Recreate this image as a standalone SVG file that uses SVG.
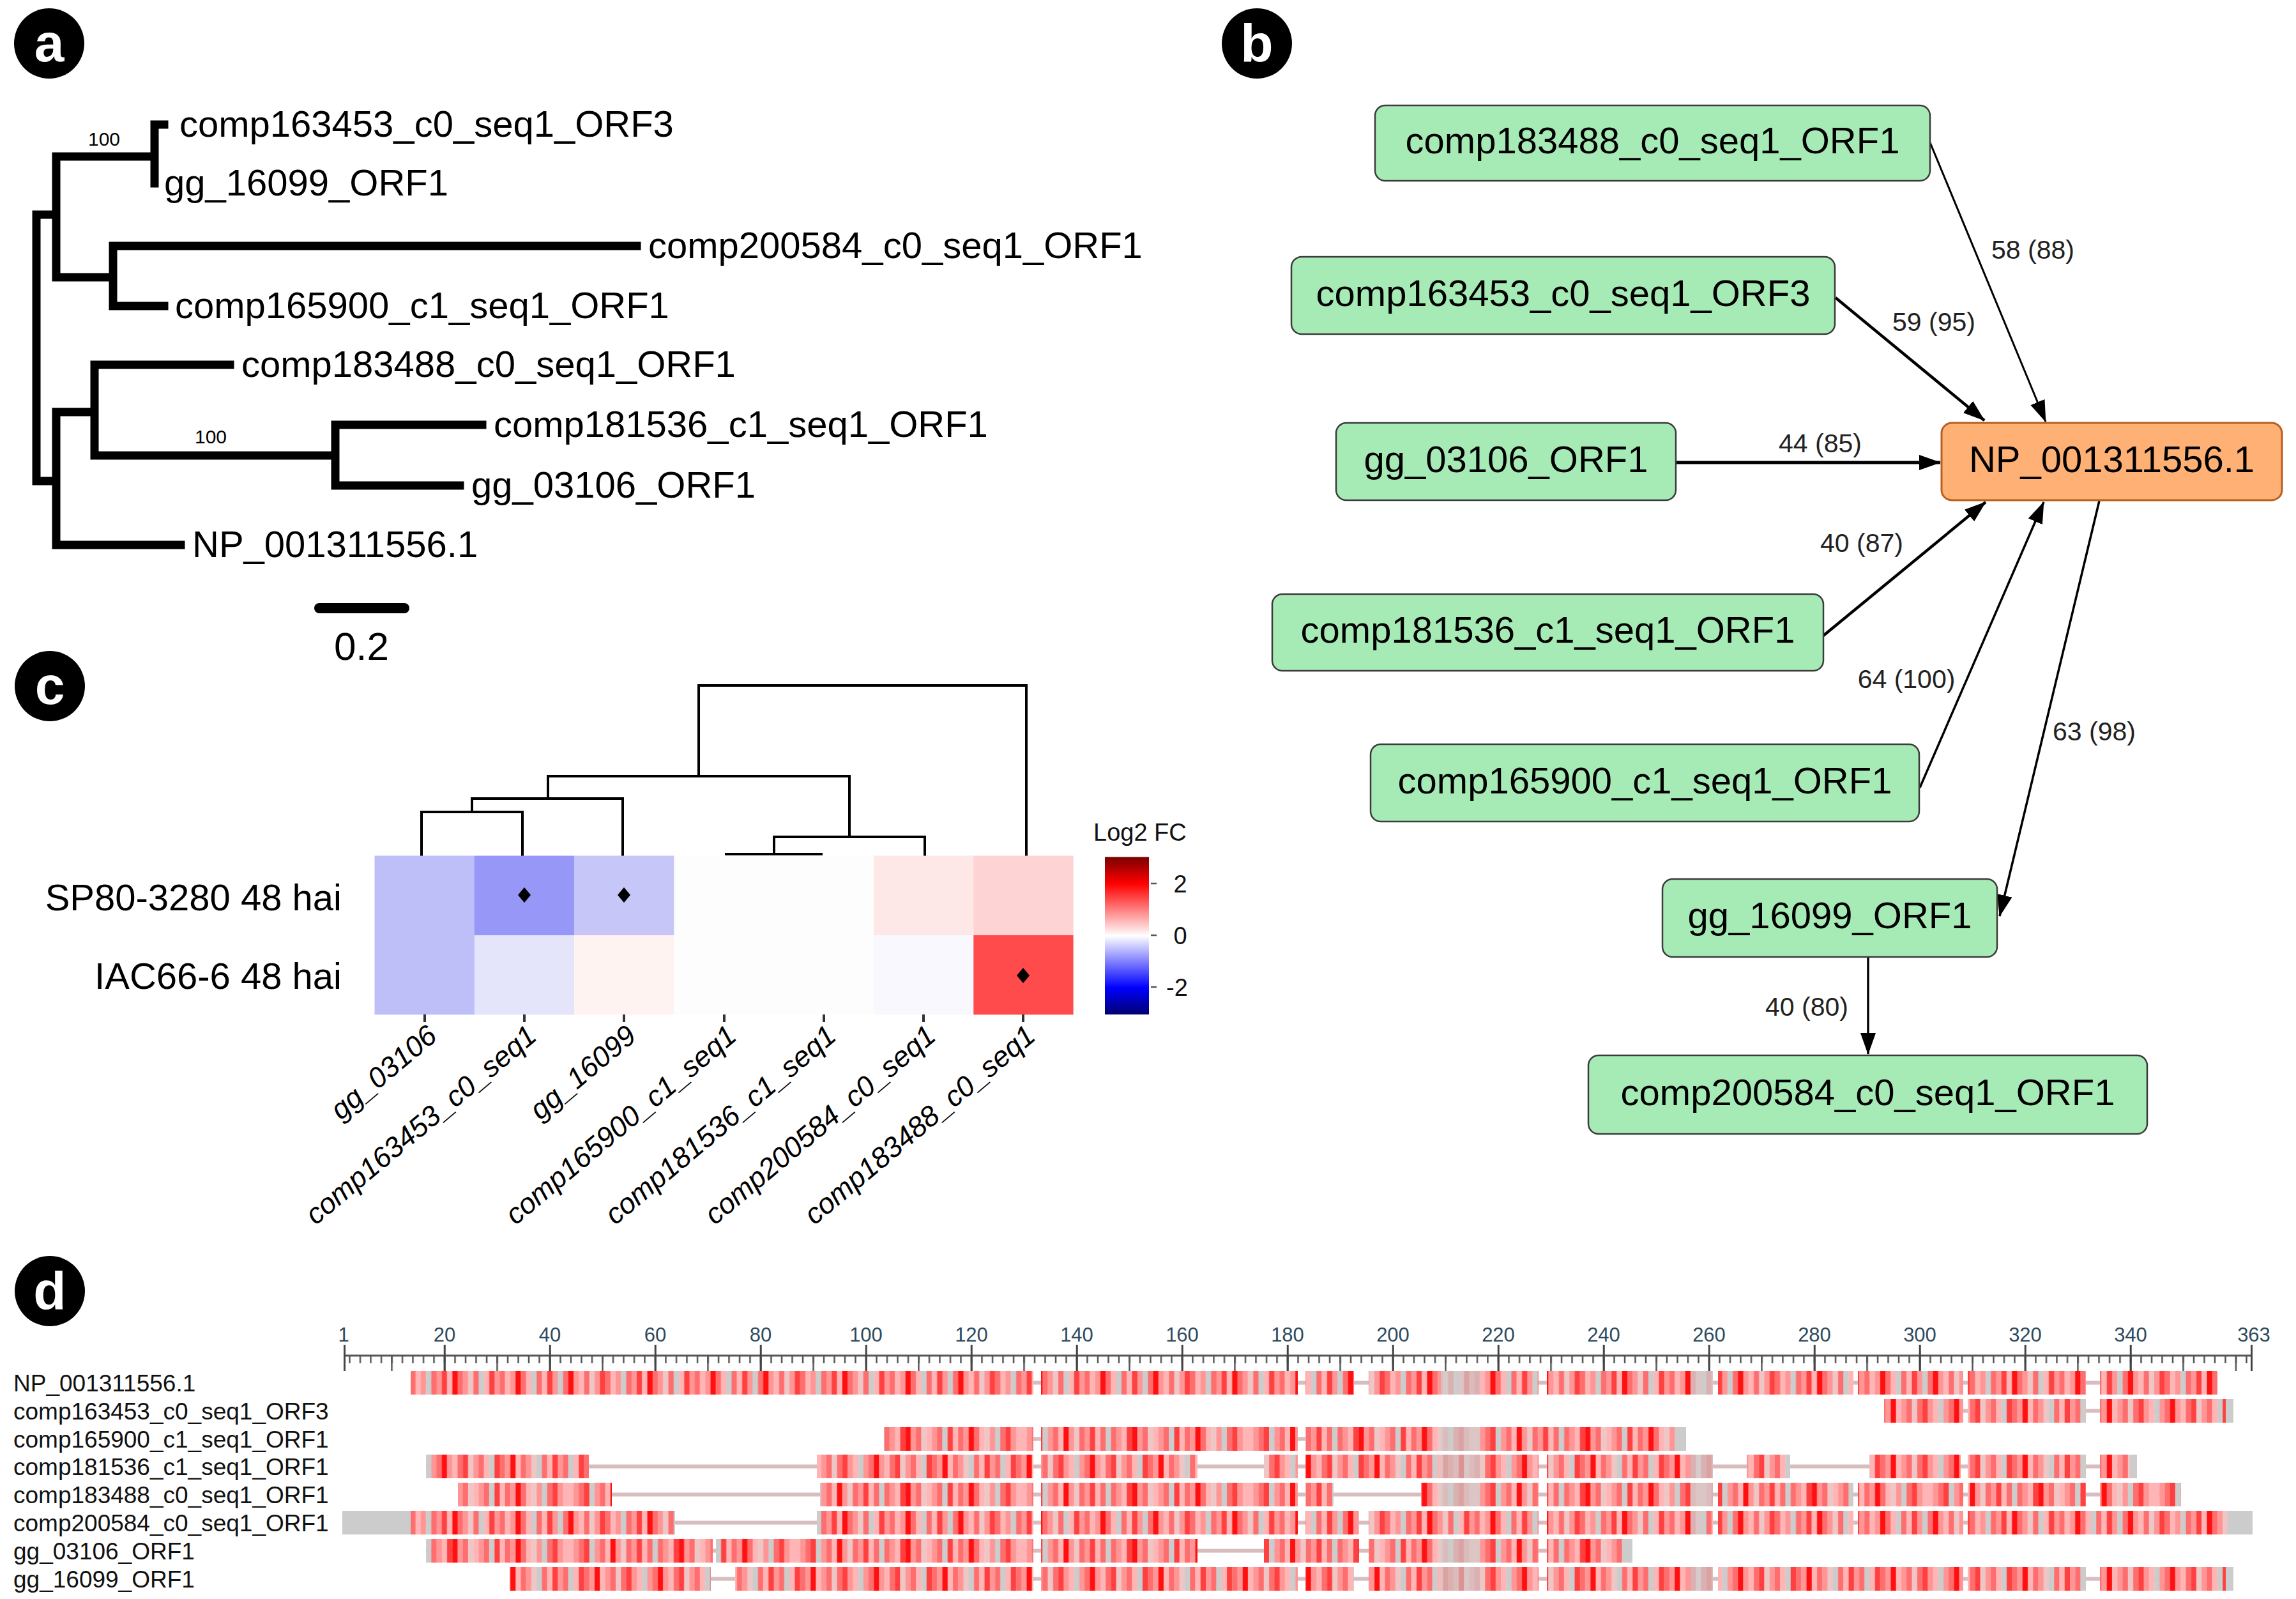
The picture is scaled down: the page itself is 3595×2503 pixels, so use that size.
<svg xmlns="http://www.w3.org/2000/svg" width="3595" height="2503" viewBox="0 0 3595 2503">
<defs>
<style>
text{font-family:"Liberation Sans",Arial,sans-serif;fill:#000}
.badge{fill:#000}
.badgeT{fill:#fff;font-weight:bold;font-size:84px;text-anchor:middle}
.tree{fill:none;stroke:#000;stroke-width:13;stroke-linecap:square}
.tl{font-size:58px}
.boot{font-size:30px}
.gnode{fill:#A6EBB5;stroke:#3b3b3b;stroke-width:2.5}
.onode{fill:#FFB074;stroke:#B85E1E;stroke-width:3}
.nt{font-size:58px;text-anchor:middle}
.edge{fill:none;stroke:#000}
.el{font-size:41px;text-anchor:middle;fill:#222}
.dendro{fill:none;stroke:#000;stroke-width:4}
.rl{font-size:58px;text-anchor:end}
.cl{font-size:45px;font-style:italic;text-anchor:end}
.lg{font-size:38px;fill:#111}
.al{font-size:37px;fill:#111}
.rn{font-size:31px;fill:#2E4A5C;text-anchor:middle}
.a{fill:#FF1010}.b{fill:#FF4040}.c{fill:#FF6E6E}.d{fill:#FF9595}.e{fill:#FFB5B5}.f{fill:#EEC6C6}.g{fill:#CCCCCC}
.sA{fill:url(#pA)}.sB{fill:url(#pB)}.sC{fill:url(#pC)}
.gap{fill:#D8BDBE}
.gr{fill:#CCCCCC}
.go{fill:#CCCCCC;opacity:0.7}
</style>
<marker id="arr" markerUnits="userSpaceOnUse" markerWidth="34" markerHeight="24" viewBox="0 0 34 24" refX="33" refY="12" orient="auto">
<path d="M0,0 L34,12 L0,24 z" fill="#000"/>
</marker>
<linearGradient id="cbar" x1="0" y1="0" x2="0" y2="1">
<stop offset="0" stop-color="#7A0000"/>
<stop offset="0.17" stop-color="#FF0000"/>
<stop offset="0.5" stop-color="#FFFFFF"/>
<stop offset="0.83" stop-color="#0000FF"/>
<stop offset="1" stop-color="#000070"/>
</linearGradient>
<pattern id="tickMinor" patternUnits="userSpaceOnUse" x="546.25" y="0" width="16.5" height="2503">
<rect x="0" y="0" width="2.5" height="2503" fill="#555"/>
</pattern>
<pattern id="tick10" patternUnits="userSpaceOnUse" x="612.25" y="0" width="82.5" height="2503">
<rect x="0" y="0" width="2.5" height="2503" fill="#555"/>
</pattern>
<pattern id="tick20" patternUnits="userSpaceOnUse" x="694.75" y="0" width="165" height="2503">
<rect x="0" y="0" width="3" height="2503" fill="#444"/>
</pattern>
<pattern id="pA" patternUnits="userSpaceOnUse" x="535" y="0" width="305.25" height="2503">
<rect x="0" width="8.5" height="2503" class="c"/><rect x="8.25" width="8.5" height="2503" class="e"/><rect x="16.5" width="8.5" height="2503" class="b"/><rect x="24.75" width="8.5" height="2503" class="d"/><rect x="33" width="8.5" height="2503" class="g"/><rect x="41.25" width="8.5" height="2503" class="c"/><rect x="49.5" width="8.5" height="2503" class="a"/><rect x="57.75" width="8.5" height="2503" class="d"/><rect x="66" width="8.5" height="2503" class="e"/><rect x="74.25" width="8.5" height="2503" class="c"/><rect x="82.5" width="8.5" height="2503" class="f"/><rect x="90.75" width="8.5" height="2503" class="d"/><rect x="99" width="8.5" height="2503" class="b"/><rect x="107.25" width="8.5" height="2503" class="c"/><rect x="115.5" width="8.5" height="2503" class="e"/><rect x="123.75" width="8.5" height="2503" class="d"/><rect x="132" width="8.5" height="2503" class="g"/><rect x="140.25" width="8.5" height="2503" class="c"/><rect x="148.5" width="8.5" height="2503" class="d"/><rect x="156.75" width="8.5" height="2503" class="b"/><rect x="165" width="8.5" height="2503" class="e"/><rect x="173.25" width="8.5" height="2503" class="a"/><rect x="181.5" width="8.5" height="2503" class="c"/><rect x="189.75" width="8.5" height="2503" class="d"/><rect x="198" width="8.5" height="2503" class="f"/><rect x="206.25" width="8.5" height="2503" class="c"/><rect x="214.5" width="8.5" height="2503" class="g"/><rect x="222.75" width="8.5" height="2503" class="e"/><rect x="231" width="8.5" height="2503" class="b"/><rect x="239.25" width="8.5" height="2503" class="d"/><rect x="247.5" width="8.5" height="2503" class="c"/><rect x="255.75" width="8.5" height="2503" class="e"/><rect x="264" width="8.5" height="2503" class="d"/><rect x="272.25" width="8.5" height="2503" class="a"/><rect x="280.5" width="8.5" height="2503" class="c"/><rect x="288.75" width="8.5" height="2503" class="e"/><rect x="297" width="8.5" height="2503" class="g"/>
</pattern>
<pattern id="pB" patternUnits="userSpaceOnUse" x="535" y="0" width="338.25" height="2503">
<rect x="0" width="8.5" height="2503" class="d"/><rect x="8.25" width="8.5" height="2503" class="c"/><rect x="16.5" width="8.5" height="2503" class="g"/><rect x="24.75" width="8.5" height="2503" class="e"/><rect x="33" width="8.5" height="2503" class="b"/><rect x="41.25" width="8.5" height="2503" class="c"/><rect x="49.5" width="8.5" height="2503" class="d"/><rect x="57.75" width="8.5" height="2503" class="a"/><rect x="66" width="8.5" height="2503" class="e"/><rect x="74.25" width="8.5" height="2503" class="d"/><rect x="82.5" width="8.5" height="2503" class="c"/><rect x="90.75" width="8.5" height="2503" class="f"/><rect x="99" width="8.5" height="2503" class="c"/><rect x="107.25" width="8.5" height="2503" class="b"/><rect x="115.5" width="8.5" height="2503" class="d"/><rect x="123.75" width="8.5" height="2503" class="e"/><rect x="132" width="8.5" height="2503" class="g"/><rect x="140.25" width="8.5" height="2503" class="d"/><rect x="148.5" width="8.5" height="2503" class="c"/><rect x="156.75" width="8.5" height="2503" class="a"/><rect x="165" width="8.5" height="2503" class="d"/><rect x="173.25" width="8.5" height="2503" class="e"/><rect x="181.5" width="8.5" height="2503" class="c"/><rect x="189.75" width="8.5" height="2503" class="b"/><rect x="198" width="8.5" height="2503" class="f"/><rect x="206.25" width="8.5" height="2503" class="d"/><rect x="214.5" width="8.5" height="2503" class="c"/><rect x="222.75" width="8.5" height="2503" class="e"/><rect x="231" width="8.5" height="2503" class="g"/><rect x="239.25" width="8.5" height="2503" class="b"/><rect x="247.5" width="8.5" height="2503" class="c"/><rect x="255.75" width="8.5" height="2503" class="d"/><rect x="264" width="8.5" height="2503" class="a"/><rect x="272.25" width="8.5" height="2503" class="e"/><rect x="280.5" width="8.5" height="2503" class="c"/><rect x="288.75" width="8.5" height="2503" class="d"/><rect x="297" width="8.5" height="2503" class="f"/><rect x="305.25" width="8.5" height="2503" class="g"/><rect x="313.5" width="8.5" height="2503" class="c"/><rect x="321.75" width="8.5" height="2503" class="e"/><rect x="330" width="8.5" height="2503" class="b"/>
</pattern>
<pattern id="pC" patternUnits="userSpaceOnUse" x="535" y="0" width="354.75" height="2503">
<rect x="0" width="8.5" height="2503" class="e"/><rect x="8.25" width="8.5" height="2503" class="d"/><rect x="16.5" width="8.5" height="2503" class="c"/><rect x="24.75" width="8.5" height="2503" class="b"/><rect x="33" width="8.5" height="2503" class="g"/><rect x="41.25" width="8.5" height="2503" class="d"/><rect x="49.5" width="8.5" height="2503" class="c"/><rect x="57.75" width="8.5" height="2503" class="e"/><rect x="66" width="8.5" height="2503" class="a"/><rect x="74.25" width="8.5" height="2503" class="d"/><rect x="82.5" width="8.5" height="2503" class="f"/><rect x="90.75" width="8.5" height="2503" class="c"/><rect x="99" width="8.5" height="2503" class="d"/><rect x="107.25" width="8.5" height="2503" class="b"/><rect x="115.5" width="8.5" height="2503" class="e"/><rect x="123.75" width="8.5" height="2503" class="c"/><rect x="132" width="8.5" height="2503" class="g"/><rect x="140.25" width="8.5" height="2503" class="c"/><rect x="148.5" width="8.5" height="2503" class="d"/><rect x="156.75" width="8.5" height="2503" class="e"/><rect x="165" width="8.5" height="2503" class="b"/><rect x="173.25" width="8.5" height="2503" class="a"/><rect x="181.5" width="8.5" height="2503" class="d"/><rect x="189.75" width="8.5" height="2503" class="c"/><rect x="198" width="8.5" height="2503" class="f"/><rect x="206.25" width="8.5" height="2503" class="e"/><rect x="214.5" width="8.5" height="2503" class="d"/><rect x="222.75" width="8.5" height="2503" class="c"/><rect x="231" width="8.5" height="2503" class="g"/><rect x="239.25" width="8.5" height="2503" class="b"/><rect x="247.5" width="8.5" height="2503" class="e"/><rect x="255.75" width="8.5" height="2503" class="c"/><rect x="264" width="8.5" height="2503" class="d"/><rect x="272.25" width="8.5" height="2503" class="a"/><rect x="280.5" width="8.5" height="2503" class="c"/><rect x="288.75" width="8.5" height="2503" class="e"/><rect x="297" width="8.5" height="2503" class="f"/><rect x="305.25" width="8.5" height="2503" class="d"/><rect x="313.5" width="8.5" height="2503" class="g"/><rect x="321.75" width="8.5" height="2503" class="c"/><rect x="330" width="8.5" height="2503" class="b"/><rect x="338.25" width="8.5" height="2503" class="d"/><rect x="346.5" width="8.5" height="2503" class="e"/>
</pattern>
</defs>
<rect x="0" y="0" width="3595" height="2503" fill="#fff"/>

<!-- panel badges -->
<g id="badge-a"><circle class="badge" cx="77" cy="68" r="55"/><text class="badgeT" x="77" y="96">a</text></g>
<g id="badge-b"><circle class="badge" cx="1968" cy="68" r="55"/><text class="badgeT" x="1968" y="97">b</text></g>
<g id="badge-c"><circle class="badge" cx="78" cy="1074" r="55"/><text class="badgeT" x="78" y="1102">c</text></g>
<g id="badge-d"><circle class="badge" cx="78" cy="2021" r="55"/><text class="badgeT" x="78" y="2050">d</text></g>

<!-- panel a: phylogenetic tree -->
<g id="panel-a" transform="translate(0,-4)">
<path class="tree" d="M57,340 V757 M57,340 H88 M57,757 H88
M88,249 V438 M88,249 H242 M242,199 V291 M242,199 H257
M88,438 H177 M177,389 V483 M177,389 H997 M177,483 H257
M88,649 V857 M88,649 H148 M148,575 V717 M148,575 H360
M148,717 H525 M525,669 V764 M525,669 H755 M525,764 H720
M88,857 H283"/>
<text class="boot" x="163" y="232" text-anchor="middle">100</text>
<text class="boot" x="330" y="698" text-anchor="middle">100</text>
<text class="tl" x="281" y="218">comp163453_c0_seq1_ORF3</text>
<text class="tl" x="257" y="310">gg_16099_ORF1</text>
<text class="tl" x="1015" y="408">comp200584_c0_seq1_ORF1</text>
<text class="tl" x="274" y="502">comp165900_c1_seq1_ORF1</text>
<text class="tl" x="378" y="594">comp183488_c0_seq1_ORF1</text>
<text class="tl" x="773" y="688">comp181536_c1_seq1_ORF1</text>
<text class="tl" x="738" y="783">gg_03106_ORF1</text>
<text class="tl" x="301" y="876">NP_001311556.1</text>
<path d="M500,956 H633" stroke="#000" stroke-width="16" stroke-linecap="round"/>
<text x="566" y="1037" font-size="62" text-anchor="middle">0.2</text>
</g>

<!-- panel b: network -->
<g id="connectors">
<path class="edge" stroke-width="3" d="M3022,223 L3203,660" marker-end="url(#arr)"/>
<path class="edge" stroke-width="4.5" d="M2874,466 L3107,658" marker-end="url(#arr)"/>
<path class="edge" stroke-width="5" d="M2624,724 L3038,724" marker-end="url(#arr)"/>
<path class="edge" stroke-width="4.5" d="M2855,995 L3109,786" marker-end="url(#arr)"/>
<path class="edge" stroke-width="3.5" d="M3006,1233 L3200,786" marker-end="url(#arr)"/>
<path class="edge" stroke-width="3.5" d="M3287,784 L3131,1434" marker-end="url(#arr)"/>
<path class="edge" stroke-width="3.5" d="M2925,1498 L2925,1650" marker-end="url(#arr)"/>
<text class="el" x="3183" y="405">58 (88)</text>
<text class="el" x="3028" y="518">59 (95)</text>
<text class="el" x="2850" y="708">44 (85)</text>
<text class="el" x="2915" y="864">40 (87)</text>
<text class="el" x="2985" y="1077">64 (100)</text>
<text class="el" x="3279" y="1159">63 (98)</text>
<text class="el" x="2829" y="1590">40 (80)</text>
</g>
<g id="node-comp183488"><rect class="gnode" x="2153" y="165" width="869" height="118" rx="16"/><text class="nt" x="2587.5" y="240">comp183488_c0_seq1_ORF1</text></g>
<g id="node-comp163453"><rect class="gnode" x="2022" y="402" width="851" height="121" rx="16"/><text class="nt" x="2447.5" y="479">comp163453_c0_seq1_ORF3</text></g>
<g id="node-gg03106"><rect class="gnode" x="2092" y="662" width="532" height="121" rx="16"/><text class="nt" x="2358" y="739">gg_03106_ORF1</text></g>
<g id="node-NP"><rect class="onode" x="3040" y="662" width="533" height="121" rx="16"/><text class="nt" x="3306.5" y="739">NP_001311556.1</text></g>
<g id="node-comp181536"><rect class="gnode" x="1992" y="930" width="863" height="120" rx="16"/><text class="nt" x="2423.5" y="1006">comp181536_c1_seq1_ORF1</text></g>
<g id="node-comp165900"><rect class="gnode" x="2146" y="1165" width="859" height="121" rx="16"/><text class="nt" x="2575.5" y="1242">comp165900_c1_seq1_ORF1</text></g>
<g id="node-gg16099"><rect class="gnode" x="2603" y="1376" width="524" height="122" rx="16"/><text class="nt" x="2865" y="1453">gg_16099_ORF1</text></g>
<g id="node-comp200584"><rect class="gnode" x="2487" y="1652" width="875" height="123" rx="16"/><text class="nt" x="2924.5" y="1730">comp200584_c0_seq1_ORF1</text></g>

<!-- panel c: heatmap -->
<g id="panel-c">
<path class="dendro" d="M1094,1215 V1073 H1607 V1340
M858,1250 V1215 H1330 V1310
M739,1271 V1250 H975 V1340
M660,1340 V1271 H818 V1340
M1212,1337 V1310 H1448 V1340
M1135,1337 H1288"/>
<rect x="586.5" y="1339.5" width="156.8" height="124.5" fill="#BEBEF8"/>
<rect x="742.8" y="1339.5" width="156.8" height="124.5" fill="#9797F8"/>
<rect x="899.1" y="1339.5" width="156.8" height="124.5" fill="#C6C6F9"/>
<rect x="1055.4" y="1339.5" width="156.8" height="124.5" fill="#FDFDFD"/>
<rect x="1211.7" y="1339.5" width="156.8" height="124.5" fill="#FDFDFD"/>
<rect x="1368" y="1339.5" width="156.8" height="124.5" fill="#FEE7E7"/>
<rect x="1524.3" y="1339.5" width="156.3" height="124.5" fill="#FED3D3"/>
<rect x="586.5" y="1464" width="156.8" height="124.3" fill="#BEBEF8"/>
<rect x="742.8" y="1464" width="156.8" height="124.3" fill="#E4E4FB"/>
<rect x="899.1" y="1464" width="156.8" height="124.3" fill="#FFF3F1"/>
<rect x="1055.4" y="1464" width="156.8" height="124.3" fill="#FDFDFD"/>
<rect x="1211.7" y="1464" width="156.8" height="124.3" fill="#FDFDFD"/>
<rect x="1368" y="1464" width="156.8" height="124.3" fill="#F8F8FE"/>
<rect x="1524.3" y="1464" width="156.3" height="124.3" fill="#FF4B4B"/>
<path d="M821,1389 L831,1401 L821,1413 L811,1401 z M977,1389 L987,1401 L977,1413 L967,1401 z M1602,1515 L1612,1527 L1602,1539 L1592,1527 z" fill="#000"/>
<path d="M665,1588 V1600 M821,1588 V1600 M977,1588 V1600 M1134,1588 V1600 M1290,1588 V1600 M1446,1588 V1600 M1602,1588 V1600" stroke="#333" stroke-width="4"/>
<text class="rl" x="535" y="1425">SP80-3280 48 hai</text>
<text class="rl" x="535" y="1548">IAC66-6 48 hai</text>
<text class="cl" transform="translate(687,1626) rotate(-40)">gg_03106</text>
<text class="cl" transform="translate(843,1626) rotate(-40)">comp163453_c0_seq1</text>
<text class="cl" transform="translate(999,1626) rotate(-40)">gg_16099</text>
<text class="cl" transform="translate(1156,1626) rotate(-40)">comp165900_c1_seq1</text>
<text class="cl" transform="translate(1312,1626) rotate(-40)">comp181536_c1_seq1</text>
<text class="cl" transform="translate(1468,1626) rotate(-40)">comp200584_c0_seq1</text>
<text class="cl" transform="translate(1624,1626) rotate(-40)">comp183488_c0_seq1</text>
<text class="lg" x="1712" y="1316">Log2 FC</text>
<rect x="1730" y="1341.5" width="69" height="246.5" fill="url(#cbar)"/>
<path d="M1802,1383 H1811 M1802,1464 H1811 M1802,1545 H1811" stroke="#555" stroke-width="2.5"/>
<text class="lg" x="1848" y="1397" text-anchor="middle">2</text>
<text class="lg" x="1848" y="1478" text-anchor="middle">0</text>
<text class="lg" x="1843" y="1559" text-anchor="middle">-2</text>
</g>

<!-- panel d: alignment -->
<g id="panel-d">
<g id="ruler">
<rect x="538" y="2120.5" width="2989" height="3" fill="#555"/>
<rect x="546" y="2122" width="2975" height="12" fill="url(#tickMinor)"/>
<rect x="611" y="2122" width="2910" height="24" fill="url(#tick10)"/>
<rect x="694" y="2105" width="2650" height="41" fill="url(#tick20)"/>
<rect x="538" y="2105" width="3" height="41" fill="#444"/>
<rect x="3524" y="2105" width="3" height="41" fill="#444"/>
<text class="rn" x="538" y="2100" text-anchor="start">1</text><text class="rn" x="696" y="2100">20</text><text class="rn" x="861" y="2100">40</text><text class="rn" x="1026" y="2100">60</text><text class="rn" x="1191" y="2100">80</text><text class="rn" x="1356" y="2100">100</text><text class="rn" x="1521" y="2100">120</text><text class="rn" x="1686" y="2100">140</text><text class="rn" x="1851" y="2100">160</text><text class="rn" x="2016" y="2100">180</text><text class="rn" x="2181" y="2100">200</text><text class="rn" x="2346" y="2100">220</text><text class="rn" x="2511" y="2100">240</text><text class="rn" x="2676" y="2100">260</text><text class="rn" x="2841" y="2100">280</text><text class="rn" x="3006" y="2100">300</text><text class="rn" x="3171" y="2100">320</text><text class="rn" x="3336" y="2100">340</text><text class="rn" x="3529" y="2100" text-anchor="end">363</text>
</g>
<text class="al" x="21" y="2178">NP_001311556.1</text>
<text class="al" x="21" y="2222">comp163453_c0_seq1_ORF3</text>
<text class="al" x="21" y="2266">comp165900_c1_seq1_ORF1</text>
<text class="al" x="21" y="2309">comp181536_c1_seq1_ORF1</text>
<text class="al" x="21" y="2353">comp183488_c0_seq1_ORF1</text>
<text class="al" x="21" y="2397">comp200584_c0_seq1_ORF1</text>
<text class="al" x="21" y="2441">gg_03106_ORF1</text>
<text class="al" x="21" y="2485">gg_16099_ORF1</text>

<g id="row-NP">
<rect class="gap" x="643" y="2161.5" width="2829" height="6"/>
<rect class="sA" x="643" y="2146" width="975" height="37"/><rect class="sA" x="1630" y="2146" width="402" height="37"/><rect class="sA" x="2044" y="2146" width="76" height="37"/><rect class="sA" x="2143" y="2146" width="266" height="37"/><rect class="sA" x="2422" y="2146" width="260" height="37"/><rect class="sA" x="2690" y="2146" width="212" height="37"/><rect class="sA" x="2909" y="2146" width="165" height="37"/><rect class="sA" x="3081" y="2146" width="185" height="37"/><rect class="sA" x="3288" y="2146" width="184" height="37"/>
<rect class="go" x="2256" y="2146" width="61" height="37"/><rect class="go" x="2647" y="2146" width="35" height="37"/>
</g>
<g id="row-comp163453">
<rect class="gap" x="2950" y="2205.5" width="547" height="6"/>
<rect class="sB" x="2950" y="2190" width="124" height="37"/><rect class="sB" x="3081" y="2190" width="185" height="37"/><rect class="sB" x="3288" y="2190" width="197" height="37"/><rect class="gr" x="3485" y="2190" width="12" height="37"/>
</g>
<g id="row-comp165900">
<rect class="gap" x="1384" y="2249.5" width="1256" height="6"/>
<rect class="sC" x="1384" y="2234" width="234" height="37"/><rect class="sC" x="1630" y="2234" width="402" height="37"/><rect class="sC" x="2044" y="2234" width="586" height="37"/><rect class="gr" x="2630" y="2234" width="10" height="37"/>
<rect class="go" x="2256" y="2234" width="61" height="37"/>
</g>
<g id="row-comp181536">
<rect class="gap" x="667" y="2292.5" width="2679" height="6"/>
<rect class="sB" x="667" y="2277" width="255" height="37"/><rect class="sB" x="1279" y="2277" width="339" height="37"/><rect class="sB" x="1630" y="2277" width="245" height="37"/><rect class="sB" x="1979" y="2277" width="53" height="37"/><rect class="sB" x="2044" y="2277" width="365" height="37"/><rect class="sB" x="2422" y="2277" width="260" height="37"/><rect class="sB" x="2735" y="2277" width="68" height="37"/><rect class="sB" x="2927" y="2277" width="143" height="37"/><rect class="sB" x="3081" y="2277" width="185" height="37"/><rect class="sB" x="3288" y="2277" width="47" height="37"/><rect class="gr" x="3335" y="2277" width="11" height="37"/>
<rect class="go" x="2256" y="2277" width="61" height="37"/><rect class="go" x="2647" y="2277" width="35" height="37"/>
</g>
<g id="row-comp183488">
<rect class="gap" x="717" y="2336.5" width="2698" height="6"/>
<rect class="sC" x="717" y="2321" width="241" height="37"/><rect class="sC" x="1284" y="2321" width="334" height="37"/><rect class="sC" x="1630" y="2321" width="402" height="37"/><rect class="sC" x="2044" y="2321" width="44" height="37"/><rect class="sC" x="2225" y="2321" width="184" height="37"/><rect class="sC" x="2422" y="2321" width="260" height="37"/><rect class="sC" x="2690" y="2321" width="212" height="37"/><rect class="sC" x="2909" y="2321" width="165" height="37"/><rect class="sC" x="3081" y="2321" width="185" height="37"/><rect class="sC" x="3288" y="2321" width="127" height="37"/>
<rect class="go" x="2256" y="2321" width="61" height="37"/><rect class="go" x="2647" y="2321" width="35" height="37"/>
</g>
<g id="row-comp200584">
<rect class="gap" x="643" y="2380.5" width="2884" height="6"/>
<rect class="gr" x="536" y="2365" width="107" height="37"/>
<rect class="sA" x="643" y="2365" width="414" height="37"/><rect class="sA" x="1279" y="2365" width="339" height="37"/><rect class="sA" x="1630" y="2365" width="402" height="37"/><rect class="sA" x="2044" y="2365" width="84" height="37"/><rect class="sA" x="2143" y="2365" width="266" height="37"/><rect class="sA" x="2422" y="2365" width="260" height="37"/><rect class="sA" x="2690" y="2365" width="212" height="37"/><rect class="sA" x="2909" y="2365" width="165" height="37"/><rect class="sA" x="3081" y="2365" width="407" height="37"/><rect class="gr" x="3488" y="2365" width="39" height="37"/>
<rect class="go" x="2647" y="2365" width="23" height="37"/>
</g>
<g id="row-gg03106">
<rect class="gap" x="667" y="2424.5" width="1889" height="6"/>
<rect class="sC" x="667" y="2409" width="449" height="37"/><rect class="sC" x="1121" y="2409" width="497" height="37"/><rect class="sC" x="1630" y="2409" width="245" height="37"/><rect class="sC" x="1979" y="2409" width="149" height="37"/><rect class="sC" x="2143" y="2409" width="266" height="37"/><rect class="sC" x="2422" y="2409" width="123" height="37"/><rect class="gr" x="2545" y="2409" width="11" height="37"/>
<rect class="go" x="2256" y="2409" width="61" height="37"/>
</g>
<g id="row-gg16099">
<rect class="gap" x="798" y="2468.5" width="2699" height="6"/>
<rect class="sB" x="798" y="2453" width="315" height="37"/><rect class="sB" x="1151" y="2453" width="467" height="37"/><rect class="sB" x="1630" y="2453" width="402" height="37"/><rect class="sB" x="2044" y="2453" width="76" height="37"/><rect class="sB" x="2143" y="2453" width="266" height="37"/><rect class="sB" x="2422" y="2453" width="260" height="37"/><rect class="sB" x="2690" y="2453" width="384" height="37"/><rect class="sB" x="3081" y="2453" width="185" height="37"/><rect class="sB" x="3288" y="2453" width="197" height="37"/><rect class="gr" x="3485" y="2453" width="12" height="37"/>
<rect class="go" x="2256" y="2453" width="61" height="37"/><rect class="go" x="2647" y="2453" width="35" height="37"/>
</g>
</g>
</svg>
